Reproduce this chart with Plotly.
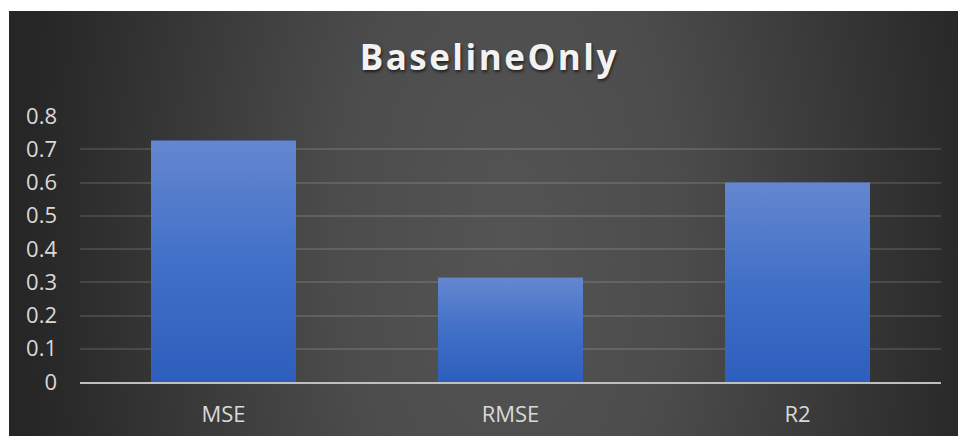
import base64
import plotly.graph_objects as go

# Metric values for the BaselineOnly model
categories = ["MSE", "RMSE", "R2"]
values = [0.726, 0.314, 0.600]
y_ticks = [0, 0.1, 0.2, 0.3, 0.4, 0.5, 0.6, 0.7, 0.8]
y_tick_labels = ["0", "0.1", "0.2", "0.3", "0.4", "0.5", "0.6", "0.7", "0.8"]

W, H = 958, 436
ML, MR, MT, MB = 80, 17, 116, 54
BARGAP = 0.495
TITLE_SPACING = 2.5  # px between title letters


def svg_uri(svg):
    return "data:image/svg+xml;base64," + base64.b64encode(svg.encode()).decode()


# dark panel with a soft centre glow
bg_svg = (
    '<svg xmlns="http://www.w3.org/2000/svg" width="949" height="425" viewBox="0 0 949 425" preserveAspectRatio="none">'
    '<defs><radialGradient id="g" gradientUnits="userSpaceOnUse" cx="500" cy="230" r="490" '
    'gradientTransform="translate(500 230) scale(1 1.9) translate(-500 -230)">'
    '<stop offset="0" stop-color="#545454"/>'
    '<stop offset="0.35" stop-color="#4c4c4c"/>'
    '<stop offset="0.7" stop-color="#373737"/>'
    '<stop offset="0.9" stop-color="#2b2b2b"/>'
    '<stop offset="1" stop-color="#262626"/>'
    '</radialGradient></defs>'
    '<rect width="949" height="425" fill="url(#g)"/></svg>'
)

# vertical shading for each bar
bar_svg = (
    '<svg xmlns="http://www.w3.org/2000/svg" width="10" height="100" viewBox="0 0 10 100" preserveAspectRatio="none">'
    '<defs><linearGradient id="b" x1="0" y1="0" x2="0" y2="1">'
    '<stop offset="0" stop-color="#6587d0"/>'
    '<stop offset="0.5" stop-color="#4170c8"/>'
    '<stop offset="1" stop-color="#2e5ebd"/>'
    '</linearGradient></defs>'
    '<rect width="10" height="100" fill="url(#b)"/></svg>'
)

pw = W - ML - MR
ph = H - MT - MB

images = [
    dict(
        source=svg_uri(bg_svg),
        xref="paper", yref="paper",
        x=(9 - ML) / pw, y=(H - MB - 11) / ph,
        sizex=949 / pw, sizey=425 / ph,
        xanchor="left", yanchor="top",
        sizing="stretch", layer="below",
    )
]
for cat, val in zip(categories, values):
    images.append(
        dict(
            source=svg_uri(bar_svg),
            xref="x", yref="y",
            x=cat, y=val,
            sizex=1 - BARGAP, sizey=val,
            xanchor="center", yanchor="top",
            sizing="stretch", layer="above",
        )
    )

fig = go.Figure(
    go.Bar(
        x=categories,
        y=values,
        marker=dict(color="#4472c4", line=dict(width=0)),
        hoverinfo="x+y",
    )
)

title_text = "BaselineOnly"
fig.update_layout(
    width=W,
    height=H,
    margin=dict(l=ML, r=MR, t=MT, b=MB, autoexpand=False),
    paper_bgcolor="white",
    plot_bgcolor="rgba(0,0,0,0)",
    bargap=BARGAP,
    showlegend=False,
    images=images,
    title=dict(
        text="<b>" + title_text + "</b>",
        # trailing letter spacing pushes the visible text slightly left
        x=(488 + TITLE_SPACING / 2) / W,
        xanchor="center",
        y=1 - 58 / H,
        yanchor="middle",
        font=dict(family="Open Sans", size=35, color="#f2f2f2",
                  shadow="1px 2px 3px rgba(0,0,0,0.6)"),
    ),
    font=dict(family="Open Sans", color="#d9d9d9"),
)

fig.update_yaxes(
    range=[0, 0.8],
    tickvals=y_ticks,
    ticktext=y_tick_labels,
    tickfont=dict(size=22, color="#d9d9d9"),
    showgrid=True,
    gridcolor="rgba(255,255,255,0.12)",
    gridwidth=2,
    zeroline=False,
    showline=False,
    ticks="",
    ticklabelstandoff=22,
    automargin=False,
)
fig.update_xaxes(
    tickfont=dict(size=22, color="#d9d9d9"),
    showgrid=False,
    showline=True,
    linecolor="#bfbfbf",
    linewidth=2,
    ticks="",
    ticklabelstandoff=12,
    layer="above traces",
    automargin=False,
)

post_js = (
    "document.querySelectorAll('.gtitle').forEach(function(t){"
    "t.style.letterSpacing='%spx';});" % TITLE_SPACING
)
fig.write_html("out.html", post_script=post_js)
